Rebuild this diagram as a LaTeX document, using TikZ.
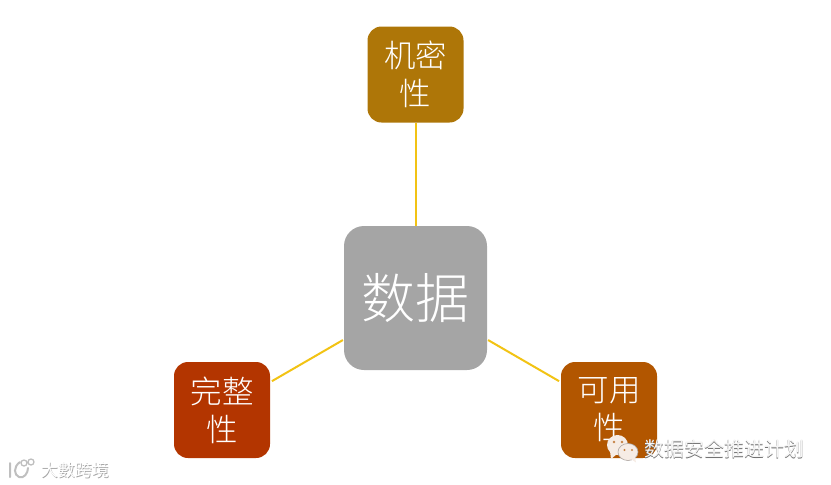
\documentclass[tikz,border=0pt]{standalone}
\usepackage{fontspec}
\setmainfont{Noto Sans CJK SC}[UprightFont={* Light}]
\newfontfamily\wmfont{Noto Sans CJK SC}
\definecolor{linegold}{HTML}{F2C314}
\definecolor{boxgold}{HTML}{AE7608}
\definecolor{boxgrey}{HTML}{A5A5A5}
\definecolor{boxred}{HTML}{B33500}
\definecolor{boxorange}{HTML}{B25600}
\definecolor{wmshadow}{HTML}{6E6E6E}
\definecolor{wmicon}{HTML}{F6ECE5}
\tikzset{
  px/.style={x=1pt,y=-1pt},
  rbox/.style={rounded corners=14pt,minimum width=96pt,minimum height=96pt,inner sep=0pt,
    text=white,align=center,font=\fontsize{31.5}{38}\selectfont},
  bigbox/.style={rbox,rounded corners=20pt,minimum width=143pt,minimum height=144pt,font=\fontsize{54}{60}\selectfont},
  link/.style={draw=linegold,line width=2pt},
  sidelink/.style={link,shorten <=1pt,shorten >=2pt},
  wmtext/.style={inner sep=0pt,font=\wmfont\fontsize{20}{20}\selectfont},
  wmsmall/.style={inner sep=0pt,font=\wmfont\fontsize{17}{17}\selectfont},
}
\begin{document}
\begin{tikzpicture}[px]
\useasboundingbox (0,0) rectangle (831,485);
\node[bigbox,fill=boxgrey] (c) at (415.5,298) {数据};
\node[rbox,fill=boxgold] (t) at (415.5,74.5) {机密\\性};
\node[rbox,fill=boxred] (l) at (222,410) {完整\\性};
\node[rbox,fill=boxorange] (r) at (609,410) {可用\\性};
\draw[link] (t) -- (c);
\draw[sidelink] (c) -- (l);
\draw[sidelink] (c) -- (r);
% WeChat watermark
\fill[wmicon] (617.5,445) ellipse [x radius=10.5,y radius=10];
\fill[wmicon] (610,451) -- (611,459) -- (617,454) -- cycle;
\fill[wmicon,draw=black!30!wmicon,line width=.6pt] (628,452) ellipse [x radius=10,y radius=8.5];
\fill[wmicon] (631,459) -- (636,462.5) -- (635,457) -- cycle;
\fill[boxorange!70!wmicon] (614,442) circle (1.3) (622,442) circle (1.3) (624.5,450) circle (1.1) (632,450) circle (1.1);
\node[wmtext,text=wmshadow] (wa) at (724.7,449.7) {数据安全推进计划};
\node[wmtext,text=white!96!black] (wb) at (724,449) {数据安全推进计划};
% left watermark
\node[wmsmall,text=black!35] (xa) at (75.7,470.7) {大數跨境};
\node[wmsmall,text=white] (xb) at (75,470) {大數跨境};
\draw[black!25,line width=2pt,line cap=round] (10,463) -- (10,477) (20,462) .. controls (13,467) and (14,475) .. (19,477) .. controls (24,479) and (28,473) .. (28,468);
\draw[black!25,line width=1.3pt] (24,463) circle (3) (31,462) circle (3);
\end{tikzpicture}
\end{document}
